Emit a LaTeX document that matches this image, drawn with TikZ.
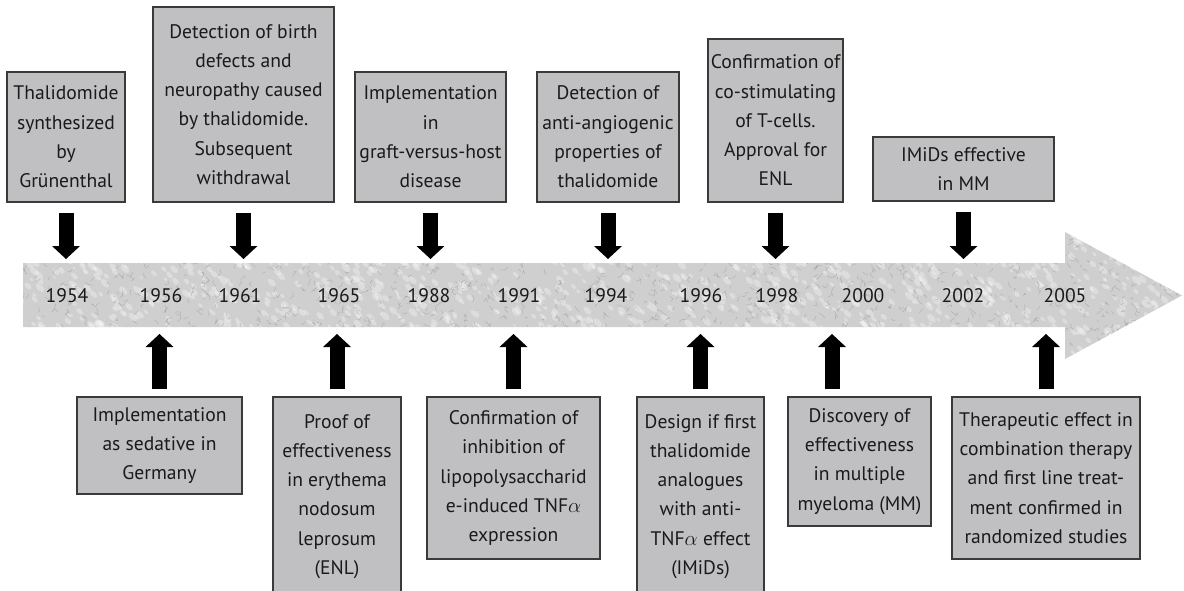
\documentclass[tikz,border=0pt]{standalone}
\usepackage{fontspec}
\setmainfont{PT Sans}
\usetikzlibrary{arrows.meta,calc}

\definecolor{boxfill}{HTML}{C0C0C2}
\definecolor{boxline}{HTML}{3A3A3A}
\definecolor{txt}{HTML}{1A1A1A}
\definecolor{bandbase}{HTML}{CFCFCF}
\definecolor{vein}{HTML}{8A8A8A}

\tikzset{
  event/.style={draw=boxline, line width=1.1pt, fill=boxfill, inner sep=0pt,
    align=center, text=txt, font=\fontsize{19.6}{29.3}\selectfont},
  year/.style={text=txt, font=\fontsize{19.6}{22}\selectfont, inner sep=0pt, anchor=base},
  fat/.style={line width=15pt, black,
    -{Triangle[width=28pt 0 0, length=13pt 0 0, line width=0pt]}},
}

\begin{document}
\begin{tikzpicture}[x=1pt,y=-1pt]
\useasboundingbox (0,0) rectangle (1184,591);
\clip (0,0) rectangle (1184,591);

% ---------- marbled timeline arrow ----------
\begin{scope}
  \clip (23,263) -- (1065,263) -- (1065,232) -- (1182,295.5) -- (1065,359)
        -- (1065,327) -- (23,327) -- cycle;
  \fill[bandbase] (0,220) rectangle (1184,370);
  \pgfmathsetseed{1954}
  % light patches
  \foreach \i in {1,...,1500}{
    \pgfmathsetmacro\xx{20+1165*rnd}
    \pgfmathsetmacro\yy{228+135*rnd}
    \pgfmathsetmacro\rr{1+2.2*rnd}
    \fill[white, opacity=0.3, rotate around={-45:(\xx,\yy)}]
      (\xx,\yy) ellipse ({\rr*1.8} and \rr);
  }
  % fine dark veins
  \foreach \i in {1,...,1600}{
    \pgfmathsetmacro\xx{20+1165*rnd}
    \pgfmathsetmacro\yy{228+135*rnd}
    \pgfmathsetmacro\ax{4*rand}
    \pgfmathsetmacro\ay{4*rand}
    \pgfmathsetmacro\bx{4*rand}
    \pgfmathsetmacro\by{4*rand}
    \draw[vein, opacity=0.45, line width=0.45pt]
      (\xx,\yy) -- ++(\ax,\ay) -- ++(\bx,\by);
  }
\end{scope}
\coordinate (bandN) at (0,263);
\coordinate (bandS) at (0,327);

% ---------- years ----------
\node[year] (y1954) at (67,302)  {1954};
\node[year] (y1956) at (161,302) {1956};
\node[year] (y1961) at (240,302) {1961};
\node[year] (y1965) at (339,302) {1965};
\node[year] (y1988) at (429,302) {1988};
\node[year] (y1991) at (519,302) {1991};
\node[year] (y1994) at (606,302) {1994};
\node[year] (y1996) at (701,302) {1996};
\node[year] (y1998) at (777,302) {1998};
\node[year] (y2000) at (863,302) {2000};
\node[year] (y2002) at (963,302) {2002};
\node[year] (y2005) at (1065,302) {2005};

% ---------- events above the timeline ----------
\node[event, minimum width=118pt, minimum height=130pt] (t1) at (66,137)
  {Thalidomide\\synthesized\\by\\Grünenthal};
\node[event, minimum width=181pt, minimum height=195pt] (t2) at (243.5,104.5)
  {Detection of birth\\defects and\\neuropathy caused\\by thalidomide.\\Subsequent\\withdrawal};
\node[event, minimum width=151pt, minimum height=130pt] (t3) at (430.5,137)
  {Implementation\\in\\graft-versus-host\\disease};
\node[event, minimum width=142pt, minimum height=130pt] (t4) at (608,137)
  {Detection of\\anti-angiogenic\\properties of\\thalidomide};
\node[event, minimum width=135pt, minimum height=163pt] (t5) at (775.5,120.5)
  {Confirmation of\\co-stimulating\\of T-cells.\\Approval for\\ENL};
\node[event, minimum width=181pt, minimum height=64pt] (t6) at (963.5,169)
  {IMiDs effective\\in MM};

% ---------- events below the timeline ----------
\node[event, minimum width=165pt, minimum height=97pt] (b1) at (159.5,445.5)
  {Implementation\\as sedative in\\Germany};
\node[event, minimum width=128pt, minimum height=199pt] (b2) at (337,496.5)
  {Proof of\\effectiveness\\in erythema\\nodosum\\leprosum\\(ENL)};
\node[event, minimum width=173pt, minimum height=162pt] (b3) at (513.5,478)
  {Confirmation of\\inhibition of\\lipopolysaccharid\\e-induced TNF$\alpha$\\expression};
\node[event, minimum width=127pt, minimum height=199pt] (b4) at (700.5,496.5)
  {Design if first\\thalidomide\\analogues\\with anti-\\TNF$\alpha$ effect\\(IMiDs)};
\node[event, minimum width=143pt, minimum height=129pt] (b5) at (859.5,461.5)
  {Discovery of\\effectiveness\\in multiple\\myeloma (MM)};
\node[event, minimum width=188pt, minimum height=162pt] (b6) at (1046,478)
  {Therapeutic effect in\\combination therapy\\and first line treat-\\ment confirmed in\\randomized studies};

% ---------- block arrows onto the timeline ----------
\foreach \t in {t1,t2,t3,t4,t5,t6}{
  \draw[fat] ($(\t.south)+(0,10)$) -- ($(\t.south |- bandN)+(0,-4)$);
}
\foreach \b in {b1,b2,b3,b4,b6}{
  \draw[fat] ($(\b.north)+(0,-7)$) -- ($(\b.north |- bandS)+(0,7)$);
}
\draw[fat] ($(b5.north)+(-27.5,-7)$) -- ($(b5.north |- bandS)+(-27.5,7)$);
\end{tikzpicture}
\end{document}
